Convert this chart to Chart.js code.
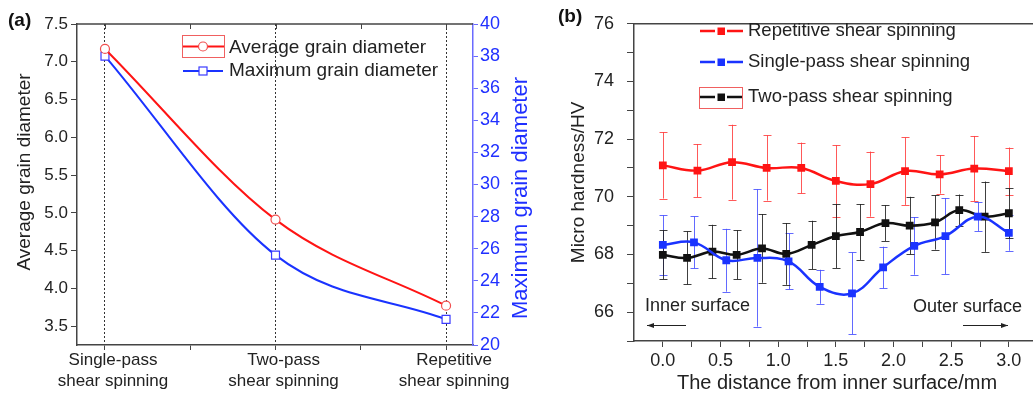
<!DOCTYPE html>
<html>
<head>
<meta charset="utf-8">
<script src="https://cdn.jsdelivr.net/npm/chart.js@4.4.1/dist/chart.umd.min.js"></script>
<style>
html,body{margin:0;padding:0;background:#fff;width:1033px;height:393px;overflow:hidden;}
#ca{position:absolute;left:0;top:0;}
#cb{position:absolute;left:520px;top:0;}
</style>
</head>
<body>
<canvas id="ca" width="540" height="393"></canvas>
<canvas id="cb" width="530" height="393"></canvas>
<script>
const FONT = '"Liberation Sans", Arial, Helvetica, sans-serif';
const TEXT = '#222222';
const AXIS = '#444444';

// ---------- Panel (a) data ----------
const processCategories = [['Single-pass', 'shear spinning'], ['Two-pass', 'shear spinning'], ['Repetitive', 'shear spinning']];
const processPositions = [0, 1, 2];
const averageGrainDiameter = [7.17, 4.91, 3.77];
const maximumGrainDiameter = [38.0, 25.6, 21.6];
const processAxisTicks = [0, 0.5, 1, 1.5, 2];
const averageAxisTicks = [3.5, 4.0, 4.5, 5.0, 5.5, 6.0, 6.5, 7.0, 7.5];
const maximumAxisTicks = [20, 22, 24, 26, 28, 30, 32, 34, 36, 38, 40];
const maximumAxisMinorTicks = [21, 23, 25, 27, 29, 31, 33, 35, 37, 39];

// ---------- Panel (b) data ----------
const repetitiveDistance = [0.0, 0.3, 0.6, 0.9, 1.2, 1.5, 1.8, 2.1, 2.4, 2.7, 3.0];
const repetitiveHardness = [71.09, 70.91, 71.20, 71.00, 71.00, 70.55, 70.44, 70.89, 70.78, 70.98, 70.89];
const repetitiveError = [1.15, 0.92, 1.30, 1.13, 0.88, 1.24, 1.13, 1.17, 0.67, 1.13, 0.82];

const singleDistance = [0.0, 0.27, 0.55, 0.82, 1.09, 1.36, 1.64, 1.91, 2.18, 2.45, 2.73, 3.0];
const singleHardness = [68.33, 68.42, 67.80, 67.88, 67.76, 66.88, 66.65, 67.55, 68.30, 68.64, 69.31, 68.75];
const singleError = [1.03, 0.90, 1.09, 2.38, 0.97, 0.59, 1.42, 0.72, 1.00, 1.32, 0.50, 0.62];

const twoDistance = [0.0, 0.21, 0.43, 0.64, 0.86, 1.07, 1.29, 1.5, 1.71, 1.93, 2.14, 2.36, 2.57, 2.79, 3.0];
const twoHardness = [67.99, 67.88, 68.10, 67.99, 68.21, 68.02, 68.33, 68.64, 68.78, 69.09, 69.00, 69.11, 69.54, 69.31, 69.43];
const twoError = [0.85, 0.92, 0.93, 0.85, 1.19, 1.07, 0.84, 1.11, 0.97, 0.62, 1.00, 0.94, 0.54, 1.22, 0.87];

const distanceTicks = [0.0, 0.5, 1.0, 1.5, 2.0, 2.5, 3.0];
const distanceMinorTicks = [0.25, 0.75, 1.25, 1.75, 2.25, 2.75, 3.25];
const hardnessTicks = [66, 68, 70, 72, 74, 76];
const hardnessMinorTicks = [65, 67, 69, 71, 73, 75];

const RED = '#ff1414', BLUE = '#1a33ff', BLACK = '#111111';

function toPoints(xs, ys) { return xs.map((x, i) => ({x: x, y: ys[i]})); }
function setTicks(list) { return function (scale) { scale.ticks = list.slice().sort((a, b) => a - b).map(v => ({value: v})); }; }

// ---------- Panel (a) ----------
const panelAPlugin = {
  id: 'panelA',
  afterDraw(chart) {
    const {ctx, chartArea: ca} = chart;
    const xs = chart.scales.x;
    ctx.save();
    // top frame + inward ticks
    ctx.strokeStyle = AXIS; ctx.lineWidth = 1.5;
    ctx.beginPath(); ctx.moveTo(ca.left, ca.top); ctx.lineTo(ca.right, ca.top); ctx.stroke();
    ctx.lineWidth = 1;
    processAxisTicks.forEach(v => {
      const px = Math.round(xs.getPixelForValue(v)) + 0.5;
      ctx.beginPath(); ctx.moveTo(px, ca.top); ctx.lineTo(px, ca.top + 5); ctx.stroke();
    });
    // legend
    ctx.strokeStyle = '#f06060'; ctx.lineWidth = 1;
    ctx.strokeRect(182.5, 35.5, 42, 22);
    ctx.strokeStyle = RED; ctx.lineWidth = 2;
    ctx.beginPath(); ctx.moveTo(183, 46.5); ctx.lineTo(224, 46.5); ctx.stroke();
    ctx.fillStyle = '#fff'; ctx.strokeStyle = '#f05050'; ctx.lineWidth = 1.2;
    ctx.beginPath(); ctx.arc(203, 46.5, 4.5, 0, Math.PI * 2); ctx.fill(); ctx.stroke();
    ctx.strokeStyle = BLUE; ctx.lineWidth = 2;
    ctx.beginPath(); ctx.moveTo(183, 71); ctx.lineTo(223, 71); ctx.stroke();
    ctx.fillStyle = '#fff'; ctx.strokeStyle = '#3a3aff'; ctx.lineWidth = 1.2;
    ctx.fillRect(199, 67, 8, 8); ctx.strokeRect(199, 67, 8, 8);
    ctx.fillStyle = TEXT; ctx.font = '19px ' + FONT; ctx.textBaseline = 'middle'; ctx.textAlign = 'left';
    ctx.fillText('Average grain diameter', 229, 48);
    ctx.fillText('Maximum grain diameter', 229, 71);
    // left axis title
    ctx.save();
    ctx.translate(25, 172); ctx.rotate(-Math.PI / 2);
    ctx.textAlign = 'center'; ctx.font = '19px ' + FONT; ctx.fillStyle = TEXT;
    ctx.fillText('Average grain diameter', 0, 0);
    ctx.restore();
    // right axis title
    ctx.save();
    ctx.translate(521, 198); ctx.rotate(-Math.PI / 2);
    ctx.textAlign = 'center'; ctx.font = '22px ' + FONT; ctx.fillStyle = '#1f2fff';
    ctx.fillText('Maximum grain diameter', 0, 0);
    ctx.restore();
    // panel label
    ctx.font = 'bold 19px ' + FONT; ctx.fillStyle = '#111'; ctx.textAlign = 'left';
    ctx.fillText('(a)', 8, 21);
    ctx.restore();
  }
};

new Chart(document.getElementById('ca'), {
  type: 'line',
  data: {
    datasets: [
      {
        label: 'Average grain diameter',
        data: toPoints(processPositions, averageGrainDiameter),
        yAxisID: 'y',
        borderColor: RED, borderWidth: 2,
        pointStyle: 'circle', pointRadius: 4.5, pointBorderWidth: 1.2,
        pointBorderColor: '#f05050', pointBackgroundColor: '#ffffff',
        cubicInterpolationMode: 'monotone'
      },
      {
        label: 'Maximum grain diameter',
        data: toPoints(processPositions, maximumGrainDiameter),
        yAxisID: 'y2',
        borderColor: BLUE, borderWidth: 2,
        pointStyle: 'rect', pointRadius: 5.6, pointBorderWidth: 1.2,
        pointBorderColor: '#3a3aff', pointBackgroundColor: '#ffffff',
        cubicInterpolationMode: 'monotone'
      }
    ]
  },
  options: {
    responsive: false, animation: false, devicePixelRatio: 1,
    layout: {padding: {top: 24, left: 0, right: 0, bottom: 0}},
    plugins: {legend: {display: false}, tooltip: {enabled: false}},
    scales: {
      x: {
        type: 'linear', position: 'bottom', min: -0.164, max: 2.158,
        afterBuildTicks: setTicks(processAxisTicks),
        afterFit: s => { s.height = 48; },
        ticks: {
          autoSkip: false, maxRotation: 0, padding: 0, labelOffset: 8,
          color: TEXT, font: {family: FONT, size: 17, lineHeight: 1.24},
          callback: v => Number.isInteger(v) ? processCategories[v] : ''
        },
        grid: {
          drawOnChartArea: true, drawTicks: true, tickLength: 5,
          color: c => (c.tick && Number.isInteger(c.tick.value)) ? '#333333' : 'rgba(0,0,0,0)',
          tickColor: AXIS, lineWidth: 1
        },
        border: {display: true, color: AXIS, width: 1.5, dash: [2, 2]}
      },
      y: {
        type: 'linear', position: 'left', min: 3.25, max: 7.5,
        afterBuildTicks: setTicks(averageAxisTicks),
        afterFit: s => { s.width = 77; },
        ticks: {color: TEXT, font: {family: FONT, size: 17}, padding: 3, callback: v => v.toFixed(1)},
        grid: {drawOnChartArea: false, tickLength: 6, tickColor: AXIS},
        border: {display: true, color: AXIS, width: 1.5}
      },
      y2: {
        type: 'linear', position: 'right', min: 20, max: 40,
        afterBuildTicks: setTicks(maximumAxisTicks.concat(maximumAxisMinorTicks)),
        afterFit: s => { s.width = 67; },
        ticks: {
          color: '#2030ff', font: {family: FONT, size: 18}, padding: 2,
          callback: v => maximumAxisTicks.includes(v) ? String(v) : ''
        },
        grid: {drawOnChartArea: false, tickLength: 5, tickColor: '#6a6aff'},
        border: {display: true, color: '#6a6aff', width: 1.5}
      }
    }
  },
  plugins: [panelAPlugin]
});

// ---------- Panel (b) ----------
const errorBarPlugin = {
  id: 'errorBars',
  beforeDatasetsDraw(chart) {
    const {ctx, chartArea: ca} = chart;
    const xs = chart.scales.x, ys = chart.scales.y;
    ctx.save();
    ctx.beginPath(); ctx.rect(ca.left, ca.top, ca.right - ca.left, ca.bottom - ca.top); ctx.clip();
    chart.data.datasets.forEach(ds => {
      if (!ds.errorValues) return;
      ctx.strokeStyle = ds.errorColor; ctx.lineWidth = 1;
      ds.data.forEach((p, i) => {
        const e = ds.errorValues[i];
        const px = Math.round(xs.getPixelForValue(p.x)) + 0.5;
        const yTop = ys.getPixelForValue(p.y + e);
        const yBot = ys.getPixelForValue(p.y - e);
        ctx.beginPath();
        ctx.moveTo(px, yTop); ctx.lineTo(px, yBot);
        ctx.moveTo(px - 4, Math.round(yTop) + 0.5); ctx.lineTo(px + 4, Math.round(yTop) + 0.5);
        ctx.moveTo(px - 4, Math.round(yBot) + 0.5); ctx.lineTo(px + 4, Math.round(yBot) + 0.5);
        ctx.stroke();
      });
    });
    ctx.restore();
  }
};

function legendEntry(ctx, y, color, text) {
  ctx.strokeStyle = color; ctx.lineWidth = 2.5;
  ctx.beginPath(); ctx.moveTo(180, y); ctx.lineTo(195, y); ctx.moveTo(207, y); ctx.lineTo(223, y); ctx.stroke();
  ctx.fillStyle = color; ctx.fillRect(197.5, y - 3.5, 7.5, 7.5);
  ctx.fillStyle = TEXT; ctx.font = '18.5px ' + FONT; ctx.textBaseline = 'middle'; ctx.textAlign = 'left';
  ctx.fillText(text, 228, y);
}

function arrow(ctx, x1, x2, y) {
  ctx.strokeStyle = '#222'; ctx.fillStyle = '#222'; ctx.lineWidth = 1;
  ctx.beginPath(); ctx.moveTo(x1, y); ctx.lineTo(x2, y); ctx.stroke();
  const dir = x2 > x1 ? 1 : -1;
  ctx.beginPath(); ctx.moveTo(x2, y); ctx.lineTo(x2 - dir * 7, y - 2.5); ctx.lineTo(x2 - dir * 7, y + 2.5); ctx.closePath(); ctx.fill();
}

const panelBPlugin = {
  id: 'panelB',
  afterDraw(chart) {
    const {ctx, chartArea: ca} = chart;
    ctx.save();
    ctx.strokeStyle = AXIS; ctx.lineWidth = 1.5;
    ctx.beginPath(); ctx.moveTo(ca.left, ca.top); ctx.lineTo(ca.right, ca.top); ctx.stroke();
    legendEntry(ctx, 31, RED, 'Repetitive shear spinning');
    legendEntry(ctx, 62, BLUE, 'Single-pass shear spinning');
    legendEntry(ctx, 97, BLACK, 'Two-pass shear spinning');
    ctx.strokeStyle = '#f06060'; ctx.lineWidth = 1;
    ctx.strokeRect(179.5, 87.5, 43, 21);
    ctx.fillStyle = TEXT; ctx.font = '18px ' + FONT; ctx.textBaseline = 'middle'; ctx.textAlign = 'left';
    ctx.fillText('Inner surface', 125, 306);
    ctx.fillText('Outer surface', 393, 307);
    arrow(ctx, 166, 127, 325.5);
    arrow(ctx, 443, 488, 325.5);
    ctx.font = 'bold 19px ' + FONT; ctx.fillStyle = '#111';
    ctx.fillText('(b)', 38, 17);
    ctx.restore();
  }
};

new Chart(document.getElementById('cb'), {
  type: 'line',
  data: {
    datasets: [
      {
        label: 'Single-pass shear spinning',
        data: toPoints(singleDistance, singleHardness),
        errorValues: singleError, errorColor: 'rgba(70,80,255,0.85)',
        borderColor: BLUE, borderWidth: 2.5, tension: 0.4,
        pointStyle: 'rect', pointRadius: 5.5, pointBorderWidth: 0,
        pointBackgroundColor: BLUE, pointBorderColor: BLUE
      },
      {
        label: 'Repetitive shear spinning',
        data: toPoints(repetitiveDistance, repetitiveHardness),
        errorValues: repetitiveError, errorColor: 'rgba(255,60,60,0.85)',
        borderColor: RED, borderWidth: 2.5, tension: 0.4,
        pointStyle: 'rect', pointRadius: 5.5, pointBorderWidth: 0,
        pointBackgroundColor: RED, pointBorderColor: RED
      },
      {
        label: 'Two-pass shear spinning',
        data: toPoints(twoDistance, twoHardness),
        errorValues: twoError, errorColor: 'rgba(30,30,30,0.85)',
        borderColor: BLACK, borderWidth: 2.5, tension: 0.4,
        pointStyle: 'rect', pointRadius: 5.5, pointBorderWidth: 0,
        pointBackgroundColor: BLACK, pointBorderColor: BLACK
      }
    ]
  },
  options: {
    responsive: false, animation: false, devicePixelRatio: 1,
    layout: {padding: {top: 15, left: 0, right: 10, bottom: 0}},
    plugins: {legend: {display: false}, tooltip: {enabled: false}},
    scales: {
      x: {
        type: 'linear', position: 'bottom', min: -0.25, max: 3.27,
        afterBuildTicks: setTicks(distanceTicks.concat(distanceMinorTicks)),
        afterFit: s => { s.height = 52; },
        ticks: {
          autoSkip: false, maxRotation: 0, padding: 3,
          color: TEXT, font: {family: FONT, size: 18},
          callback: v => distanceTicks.includes(v) ? v.toFixed(1) : ''
        },
        grid: {drawOnChartArea: false, tickLength: 6, tickColor: AXIS},
        border: {display: true, color: AXIS, width: 1.5},
        title: {display: true, text: 'The distance from inner surface/mm', color: TEXT,
                font: {family: FONT, size: 20, lineHeight: 1}, padding: {top: 0, bottom: 0}}
      },
      y: {
        type: 'linear', position: 'left', min: 65, max: 76,
        afterBuildTicks: setTicks(hardnessTicks.concat(hardnessMinorTicks)),
        afterFit: s => { s.width = 114; },
        ticks: {
          color: TEXT, font: {family: FONT, size: 18}, padding: 13,
          callback: v => hardnessTicks.includes(v) ? String(v) : ''
        },
        grid: {drawOnChartArea: false, tickLength: 7, tickColor: AXIS},
        border: {display: true, color: AXIS, width: 1.5},
        title: {display: true, text: 'Micro hardness/HV', color: TEXT,
                font: {family: FONT, size: 19, lineHeight: 1}, padding: {top: 49, bottom: 0}}
      }
    }
  },
  plugins: [errorBarPlugin, panelBPlugin]
});
</script>
</body>
</html>
